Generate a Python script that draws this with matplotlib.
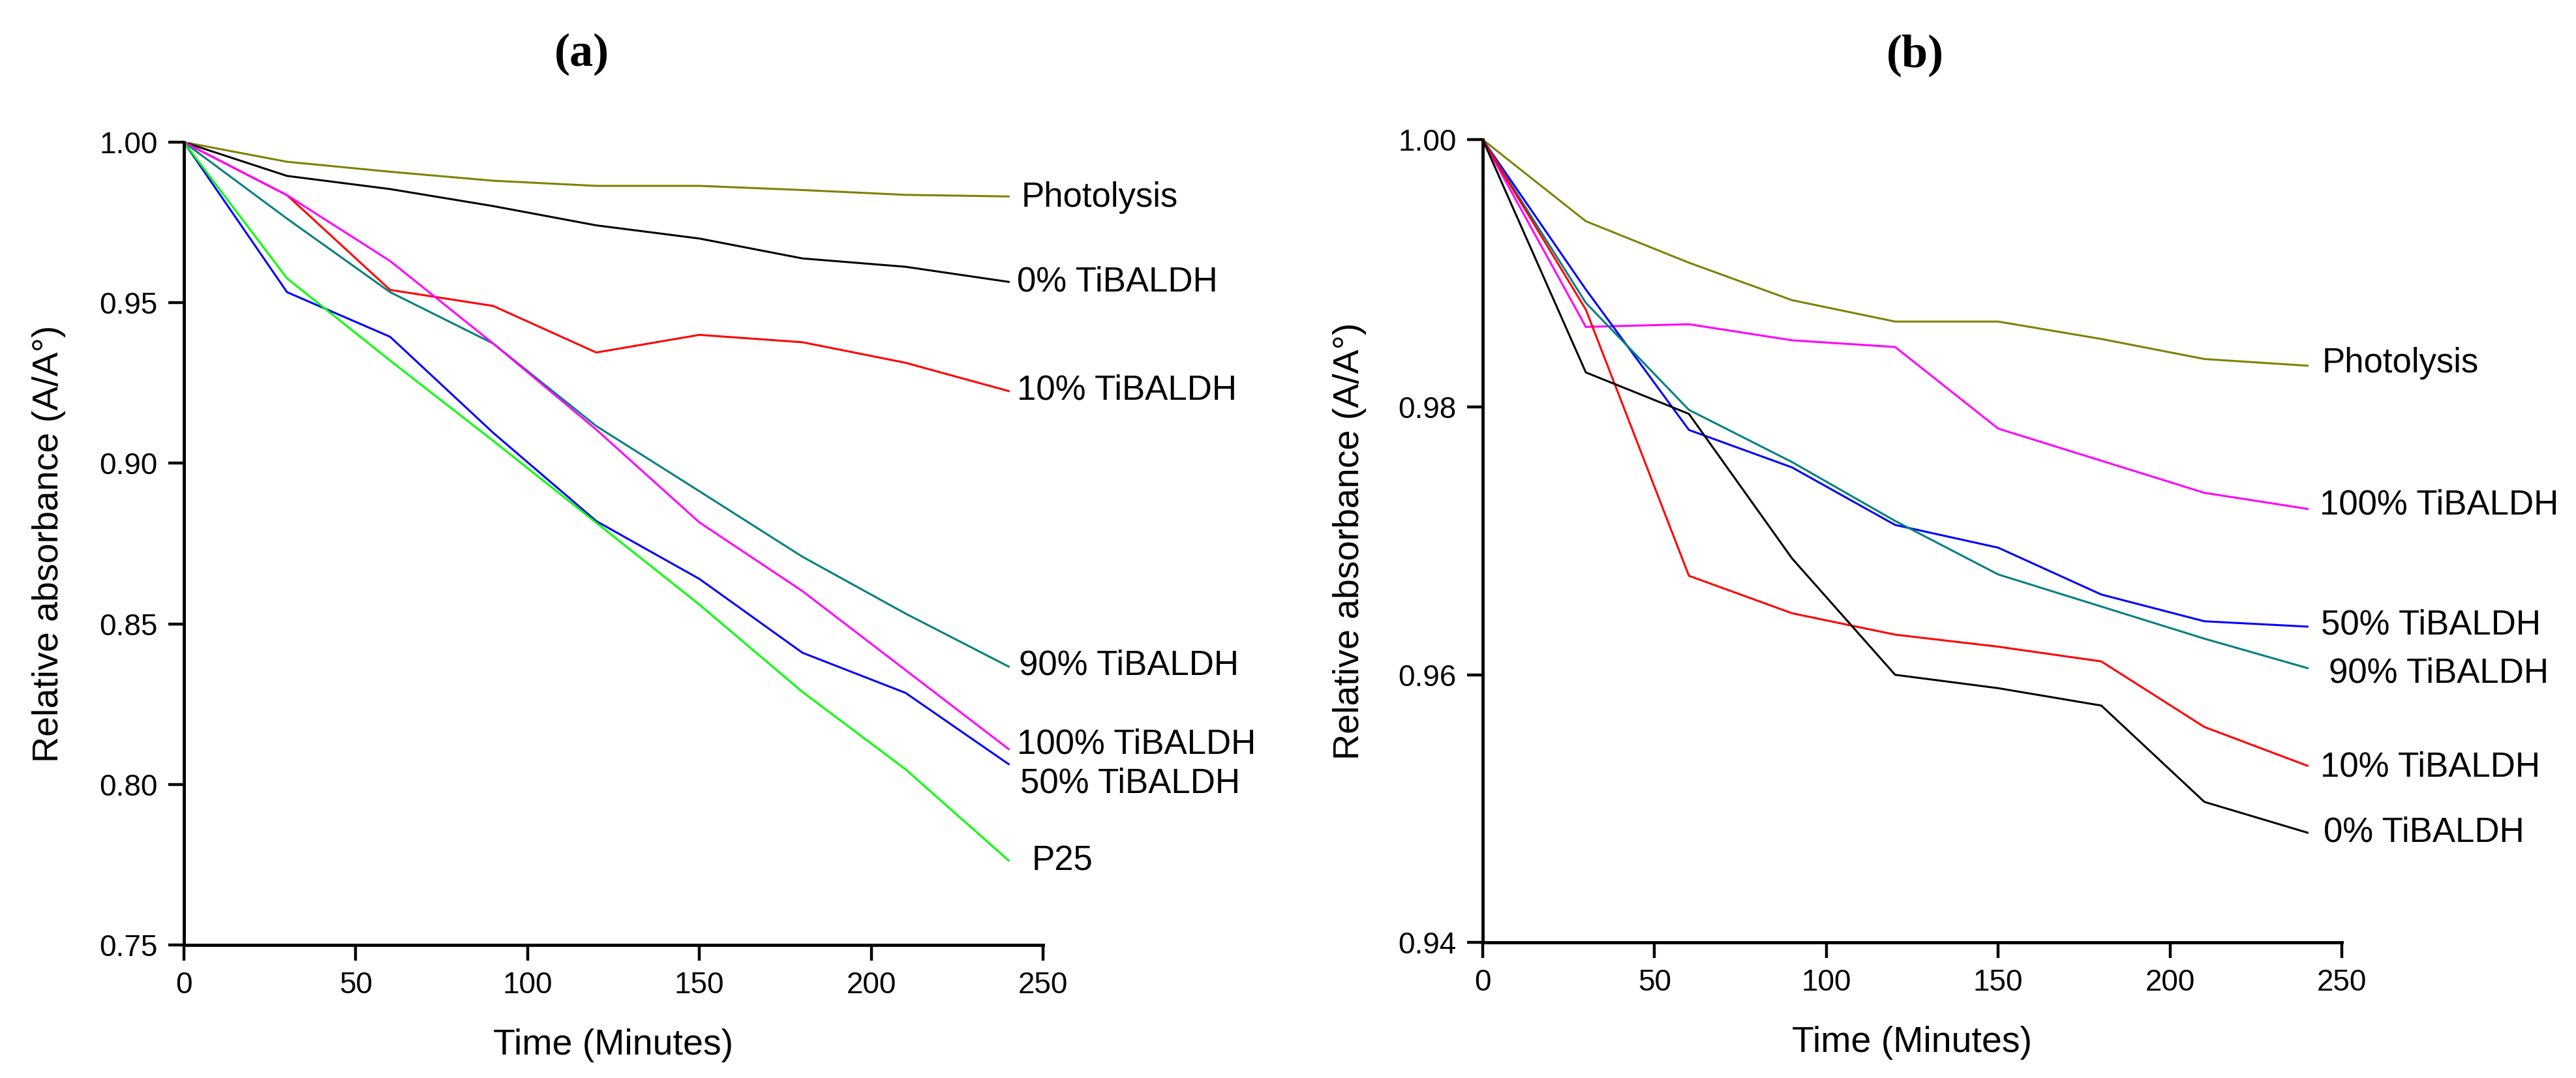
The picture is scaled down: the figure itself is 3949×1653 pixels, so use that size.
import matplotlib
matplotlib.use("Agg")
import matplotlib.pyplot as plt

plt.rcParams['font.family'] = ['Liberation Sans', 'DejaVu Sans']

# sampling times (minutes)
time = [0, 30, 60, 90, 120, 150, 180, 210, 240]

# photolysis run (same in both panels)
photolysis = [1.000, 0.9939, 0.9908, 0.9880, 0.9864, 0.9864, 0.9851, 0.9836, 0.9831]

# panel (a)
a_ti0 = [1.000, 0.9895, 0.9854, 0.9801, 0.9741, 0.9700, 0.9638, 0.9612, 0.9565]
a_ti10 = [1.000, 0.9835, 0.9540, 0.9490, 0.9345, 0.9400, 0.9377, 0.9313, 0.9225]
a_ti90 = [1.000, 0.9762, 0.9533, 0.9373, 0.9116, 0.8913, 0.8709, 0.8532, 0.8367]
a_ti100 = [1.000, 0.9835, 0.9630, 0.9373, 0.9105, 0.8816, 0.8602, 0.8356, 0.8110]
a_ti50 = [1.000, 0.9533, 0.9394, 0.9095, 0.8820, 0.8640, 0.8410, 0.8285, 0.8063]
a_p25 = [1.000, 0.9576, 0.9320, 0.9070, 0.8815, 0.8560, 0.8288, 0.8047, 0.7763]

# panel (b)
b_ti100 = [1.000, 0.9860, 0.9862, 0.9850, 0.9845, 0.9784, 0.9760, 0.9736, 0.9724]
b_ti50 = [1.000, 0.9888, 0.9783, 0.9755, 0.9712, 0.9695, 0.9660, 0.9640, 0.9636]
b_ti90 = [1.000, 0.9878, 0.9798, 0.9759, 0.9715, 0.9675, 0.9651, 0.9627, 0.9605]
b_ti10 = [1.000, 0.9873, 0.9674, 0.9646, 0.9630, 0.9621, 0.9610, 0.9561, 0.9532]
b_ti0 = [1.000, 0.9826, 0.9795, 0.9687, 0.9600, 0.9590, 0.9577, 0.9505, 0.9482]

series_a = [
    ("Photolysis", photolysis, "#808000"),
    ("0% TiBALDH", a_ti0, "black"),
    ("10% TiBALDH", a_ti10, "#ff0000"),
    ("90% TiBALDH", a_ti90, "#008080"),
    ("100% TiBALDH", a_ti100, "#ff00ff"),
    ("50% TiBALDH", a_ti50, "#0000ff"),
    ("P25", a_p25, "#00ff00"),
]
series_b = [
    ("Photolysis", photolysis, "#808000"),
    ("100% TiBALDH", b_ti100, "#ff00ff"),
    ("50% TiBALDH", b_ti50, "#0000ff"),
    ("90% TiBALDH", b_ti90, "#008080"),
    ("10% TiBALDH", b_ti10, "#ff0000"),
    ("0% TiBALDH", b_ti0, "black"),
]

# where the end labels sit (data coords)
labels_a = [(243.7, 0.9827), (242.4, 0.9565), (242.4, 0.9227), (242.9, 0.8371),
            (242.4, 0.8125), (243.3, 0.8003), (246.7, 0.7760)]
labels_b = [(244.3, 0.9833), (243.5, 0.9727), (244.0, 0.9637), (246.2, 0.9601),
            (243.8, 0.9531), (244.7, 0.9482)]

fig = plt.figure(figsize=(39.49, 16.53), dpi=100)
ax_a = fig.add_axes([0.0714, 0.1234, 0.3335, 0.7447])
ax_b = fig.add_axes([0.5756, 0.1258, 0.3335, 0.7447])


def draw(ax, series, labels, ylim, yticks, ylab_x):
    for (name, vals, col), (lx, ly) in zip(series, labels):
        ax.plot(time, vals, color=col, lw=2.2)
        ax.text(lx, ly, name, fontsize=38, ha='left', va='center')
    ax.set_xlim(0, 250)
    ax.set_ylim(*ylim)
    ax.set_xticks([0, 50, 100, 150, 200, 250])
    ax.set_yticks(yticks)
    ax.set_yticklabels(["%.2f" % v for v in yticks])
    for s in ['top', 'right']:
        ax.spines[s].set_visible(False)
    for s in ['left', 'bottom']:
        ax.spines[s].set_linewidth(3.5)
    ax.tick_params(direction='out', length=17, width=3.2, labelsize=33, pad=12)
    ax.set_xlabel("Time (Minutes)", fontsize=40)
    ax.xaxis.label.set_va('center')
    ax.xaxis.set_label_coords(0.5, -0.125)
    ax.set_ylabel("Relative absorbance (A/A°)", fontsize=40)
    ax.yaxis.label.set_va('center')
    ax.yaxis.set_label_coords(ylab_x, 0.5)


draw(ax_a, series_a, labels_a, (0.75, 1.00), [0.75, 0.80, 0.85, 0.90, 0.95, 1.00], -0.157)
draw(ax_b, series_b, labels_b, (0.94, 1.00), [0.94, 0.96, 0.98, 1.00], -0.155)

fig.text(0.2259, 0.9498, "(a)", fontsize=52, fontweight='bold', family='Liberation Serif',
         ha='center', va='center')
fig.text(0.7435, 0.9486, "(b)", fontsize=52, fontweight='bold', family='Liberation Serif',
         ha='center', va='center')

fig.savefig("out.png", dpi=100)
